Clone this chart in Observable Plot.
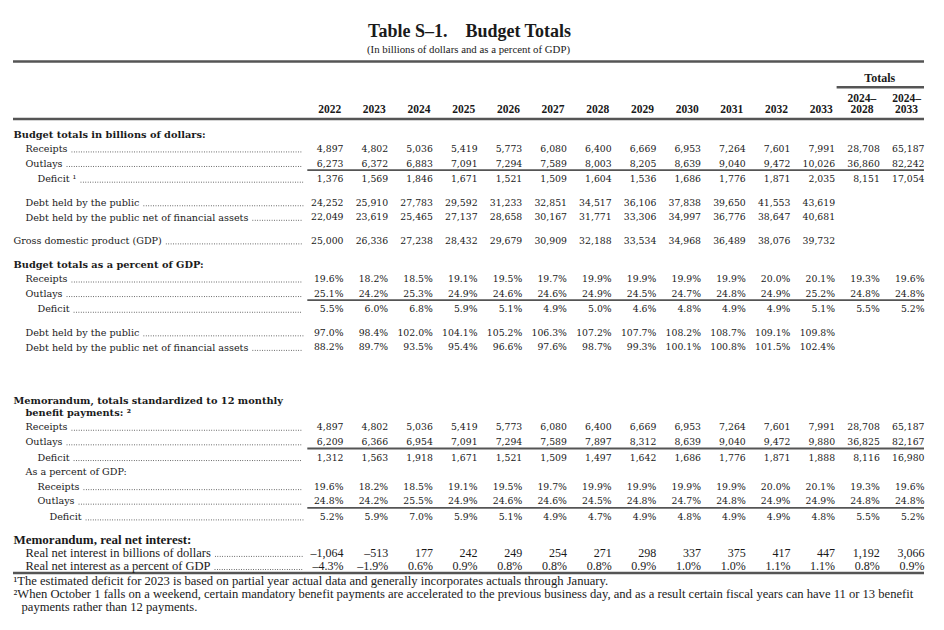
<!DOCTYPE html>
<html><head><meta charset="utf-8">
<script src="https://cdn.jsdelivr.net/npm/d3@7"></script>
<script src="https://cdn.jsdelivr.net/npm/@observablehq/plot@0.6"></script>
<style>body{margin:0;background:#fff} svg{display:block}</style>
</head><body><div id="chart"></div>
<script>
// ---------- DATA ----------
const title = "Table S–1.\u2003Budget Totals";
const subtitle = "(In billions of dollars and as a percent of GDP)";
const years = ["2022","2023","2024","2025","2026","2027","2028","2029","2030","2031","2032","2033"];
const totalCols = ["2024–2028","2024–2033"];
const totalsHeader = "Totals";

const receipts   = [4897,4802,5036,5419,5773,6080,6400,6669,6953,7264,7601,7991,28708,65187];
const outlays    = [6273,6372,6883,7091,7294,7589,8003,8205,8639,9040,9472,10026,36860,82242];
const deficit    = [1376,1569,1846,1671,1521,1509,1604,1536,1686,1776,1871,2035,8151,17054];
const debtPublic = [24252,25910,27783,29592,31233,32851,34517,36106,37838,39650,41553,43619];
const debtNet    = [22049,23619,25465,27137,28658,30167,31771,33306,34997,36776,38647,40681];
const gdp        = [25000,26336,27238,28432,29679,30909,32188,33534,34968,36489,38076,39732];

const receiptsPct   = [19.6,18.2,18.5,19.1,19.5,19.7,19.9,19.9,19.9,19.9,20.0,20.1,19.3,19.6];
const outlaysPct    = [25.1,24.2,25.3,24.9,24.6,24.6,24.9,24.5,24.7,24.8,24.9,25.2,24.8,24.8];
const deficitPct    = [5.5,6.0,6.8,5.9,5.1,4.9,5.0,4.6,4.8,4.9,4.9,5.1,5.5,5.2];
const debtPublicPct = [97.0,98.4,102.0,104.1,105.2,106.3,107.2,107.7,108.2,108.7,109.1,109.8];
const debtNetPct    = [88.2,89.7,93.5,95.4,96.6,97.6,98.7,99.3,100.1,100.8,101.5,102.4];

const stdReceipts    = [4897,4802,5036,5419,5773,6080,6400,6669,6953,7264,7601,7991,28708,65187];
const stdOutlays     = [6209,6366,6954,7091,7294,7589,7897,8312,8639,9040,9472,9880,36825,82167];
const stdDeficit     = [1312,1563,1918,1671,1521,1509,1497,1642,1686,1776,1871,1888,8116,16980];
const stdReceiptsPct = [19.6,18.2,18.5,19.1,19.5,19.7,19.9,19.9,19.9,19.9,20.0,20.1,19.3,19.6];
const stdOutlaysPct  = [24.8,24.2,25.5,24.9,24.6,24.6,24.5,24.8,24.7,24.8,24.9,24.9,24.8,24.8];
const stdDeficitPct  = [5.2,5.9,7.0,5.9,5.1,4.9,4.7,4.9,4.8,4.9,4.9,4.8,5.5,5.2];

const realInterest    = [-1064,-513,177,242,249,254,271,298,337,375,417,447,1192,3066];
const realInterestPct = [-4.3,-1.9,0.6,0.9,0.8,0.8,0.8,0.9,1.0,1.0,1.1,1.1,0.8,0.9];

const footnotes = [
  "¹The estimated deficit for 2023 is based on partial year actual data and generally incorporates actuals through January.",
  "²When October 1 falls on a weekend, certain mandatory benefit payments are accelerated to the previous business day, and as a result certain fiscal years can have 11 or 13 benefit",
  "payments rather than 12 payments."
];

// table structure (group "b" = body, "m" = memorandum real-interest block)
const rows = [
  {label:"Budget totals in billions of dollars:", level:0, heading:true, group:"b"},
  {label:"Receipts", level:1, values:receipts, group:"b"},
  {label:"Outlays", level:1, values:outlays, sum:true, group:"b"},
  {label:"Deficit ¹", level:2, values:deficit, group:"b"},
  {gap:0.62},
  {label:"Debt held by the public", level:1, values:debtPublic, group:"b"},
  {label:"Debt held by the public net of financial assets", level:1, values:debtNet, group:"b"},
  {gap:0.62},
  {label:"Gross domestic product (GDP)", level:0, values:gdp, group:"b"},
  {gap:0.62},
  {label:"Budget totals as a percent of GDP:", level:0, heading:true, group:"b"},
  {label:"Receipts", level:1, values:receiptsPct, pct:true, group:"b"},
  {label:"Outlays", level:1, values:outlaysPct, pct:true, sum:true, group:"b"},
  {label:"Deficit", level:2, values:deficitPct, pct:true, group:"b"},
  {gap:0.62},
  {label:"Debt held by the public", level:1, values:debtPublicPct, pct:true, group:"b"},
  {label:"Debt held by the public net of financial assets", level:1, values:debtNetPct, pct:true, group:"b"},
  {gap:2.67},
  {label:"Memorandum, totals standardized to 12 monthly", level:0, heading:true, group:"b"},
  {label:"benefit payments: ²", level:1, heading:true, cont:true, group:"b"},
  {label:"Receipts", level:1, values:stdReceipts, group:"b"},
  {label:"Outlays", level:1, values:stdOutlays, sum:true, group:"b"},
  {label:"Deficit", level:2, values:stdDeficit, group:"b"},
  {label:"As a percent of GDP:", level:1, group:"b"},
  {label:"Receipts", level:2, values:stdReceiptsPct, pct:true, group:"b"},
  {label:"Outlays", level:2, values:stdOutlaysPct, pct:true, sum:true, group:"b"},
  {label:"Deficit", level:3, values:stdDeficitPct, pct:true, group:"b"},
  {gap:0.55},
  {label:"Memorandum, real net interest:", level:0, heading:true, group:"m"},
  {label:"Real net interest in billions of dollars", level:1, values:realInterest, group:"m"},
  {label:"Real net interest as a percent of GDP", level:1, values:realInterestPct, pct:true, group:"m"}
];

// ---------- LAYOUT ----------
const W = 944, H = 630;
const LINE = 14.55, TOP = 134;          // px per line, first body line
const U = px => (px - TOP) / LINE;      // px -> line units
const INDENT0 = 13, INDENT = 12, LEADER_END = 303;
const TEXT = "#1a1a1a", RULE = "#555";
const lineStep = {b: 1, m: 0.9};

const fonts = {
  b: {head: {family:"DejaVu Serif", size:9.8, weight:"bold"}, body:{family:"DejaVu Serif", size:9.6, weight:"normal"}, num:{family:"DejaVu Serif", size:9.3}},
  m: {head: {family:"Liberation Serif", size:13, weight:"bold"}, body:{family:"Liberation Serif", size:12.5, weight:"normal"}, num:{family:"Liberation Serif", size:12}}
};

let u = 0, prev = null;
const laid = [];
for (const r of rows) {
  if (r.gap != null) { u += r.gap; continue; }
  if (prev) u += r.cont ? 0.82 : (prev.sum ? 1.08 : (prev.group === r.group ? lineStep[r.group] : 1));
  laid.push({...r, y: u});
  prev = r;
}

const fmtNum = v => (v < 0 ? "–" : "") + d3.format(",")(Math.abs(v));
const fmtPct = v => (v < 0 ? "–" : "") + Math.abs(v).toFixed(1) + "%";

const cells = laid.filter(r => r.values).flatMap(r =>
  r.values.map((v, i) => ({y: r.y, col: i, text: r.pct ? fmtPct(v) : fmtNum(v), group: r.group})));

const ctx = document.createElement("canvas").getContext("2d");
const measure = (s, f) => { ctx.font = `${f.weight} ${f.size}px "${f.family}"`; return ctx.measureText(s).width; };

const marks = [];

// title & subtitle
marks.push(Plot.text([title], {text: d => d, y: U(31), dx: -3, fontFamily:"Liberation Serif", fontWeight:"bold", fontSize:18, fill: TEXT}));
marks.push(Plot.text([subtitle], {text: d => d, y: U(49.5), dx: -4, fontFamily:"Liberation Serif", fontSize:10.8, fill: TEXT}));

// header rules
const fullRule = {insetLeft: 13, insetRight: W - 924, stroke: RULE, strokeWidth: 2.6};
marks.push(Plot.ruleY([U(61)], {y: d => d, ...fullRule}));
marks.push(Plot.ruleY([U(118.5)], {y: d => d, ...fullRule}));
const lastRow = laid[laid.length - 1];
marks.push(Plot.ruleY([lastRow], {y: d => d.y + 0.5, ...fullRule}));

// column headers
const hdr = {fontFamily:"Liberation Serif", fontWeight:"bold", fontSize:11.5, fill: TEXT};
marks.push(Plot.text(years, {x: (d, i) => i + 1 - 0.31, y: U(108.5), text: d => d, ...hdr}));
const totalsSplit = totalCols.map((d, i) => ({top: d.split("–")[0] + "–", bottom: d.split("–")[1], col: years.length + i}));
marks.push(Plot.text(totalsSplit, {x: d => d.col + 1 - 0.4, y: U(98.3), text: "top", ...hdr}));
marks.push(Plot.text(totalsSplit, {x: d => d.col + 1 - 0.4, y: U(108.5), text: "bottom", ...hdr}));
marks.push(Plot.text([totalsHeader], {x: years.length + 1, y: U(77.5), text: d => d, ...hdr, fontSize: 12}));
marks.push(Plot.ruleY([U(86.7)], {y: d => d, x1: years.length, x2: years.length + totalCols.length, insetLeft: 2, stroke: RULE, strokeWidth: 2.4}));

// sum rules under Outlays rows
marks.push(Plot.ruleY(laid.filter(r => r.sum), {y: d => d.y + 0.45, x1: 0, x2: years.length + totalCols.length, insetLeft: 9, stroke: RULE, strokeWidth: 1.8}));

// leaders and labels
for (const r of laid) {
  const f = r.heading ? fonts[r.group].head : fonts[r.group].body;
  const left = INDENT0 + INDENT * r.level;
  if (r.values) {
    const w = measure(r.label, f);
    marks.push(Plot.ruleY([r], {y: "y", dy: f.size * 0.3, insetLeft: left + w + 5, insetRight: W - LEADER_END,
      stroke: "#333", strokeWidth: 0.9, strokeLinecap: "round", strokeDasharray: "0.01 2.4"}));
  }
  marks.push(Plot.text([r], {y: "y", text: "label", frameAnchor: "left", dx: left, textAnchor: "start",
    fontFamily: f.family, fontSize: f.size, fontWeight: f.weight, fill: TEXT}));
}

// values
for (const g of ["b", "m"]) {
  const f = fonts[g].num;
  marks.push(Plot.text(cells.filter(c => c.group === g), {x: d => d.col + 1, y: "y", text: "text", textAnchor: "end",
    fontFamily: f.family, fontSize: f.size, fill: TEXT}));
}

// footnotes
const fn = {frameAnchor: "left", textAnchor: "start", fontFamily: "Liberation Serif", fontSize: 12.6, fill: TEXT, text: d => d};
marks.push(Plot.text([footnotes[0]], {y: U(580), dx: 13, ...fn}));
marks.push(Plot.text([footnotes[1]], {y: U(593.5), dx: 13, ...fn}));
marks.push(Plot.text([footnotes[2]], {y: U(606.5), dx: 21, ...fn}));

const chart = Plot.plot({
  width: W, height: H,
  marginLeft: 0, marginRight: 0, marginTop: 0, marginBottom: 0,
  x: {type: "linear", domain: [0, years.length + totalCols.length], range: [298.3, 924], axis: null},
  y: {type: "linear", domain: [U(0), U(H)], range: [0, H], axis: null},
  style: {background: "#fff", color: TEXT},
  marks
});
document.getElementById("chart").append(chart);
</script>
</body></html>
